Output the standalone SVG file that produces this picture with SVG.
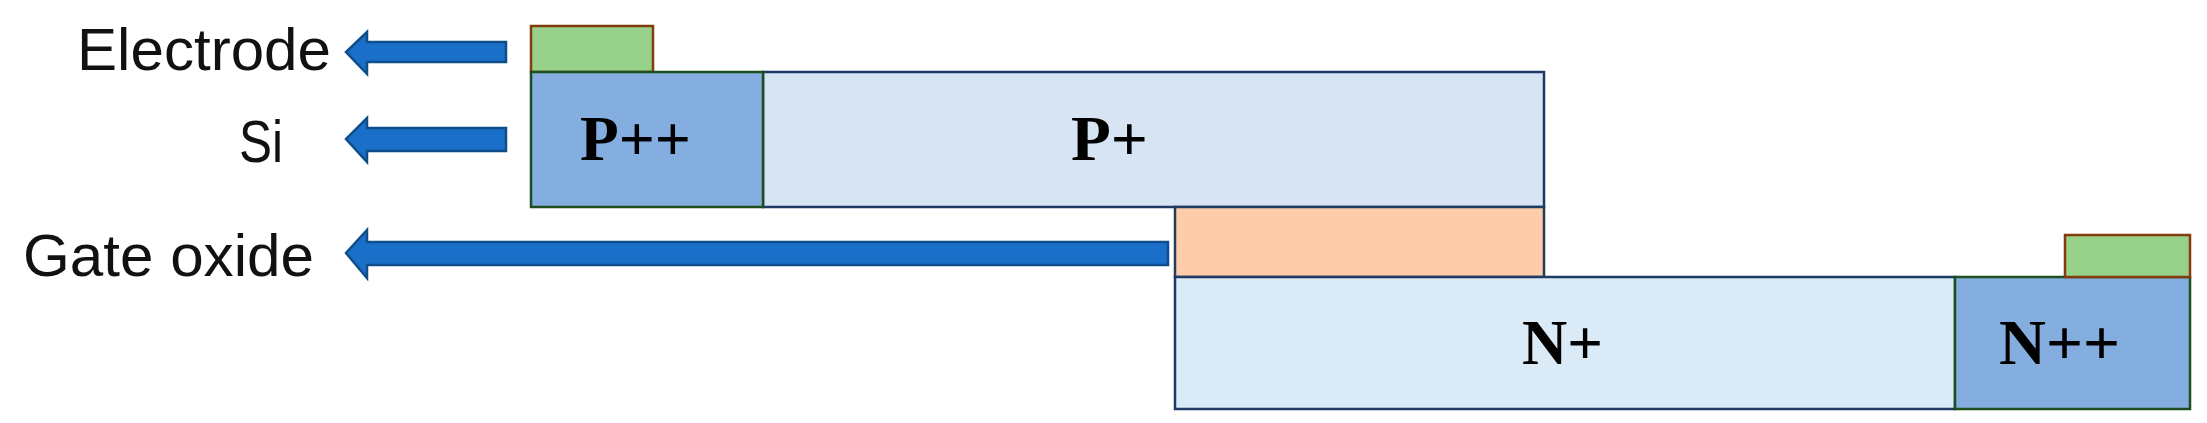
<svg xmlns="http://www.w3.org/2000/svg" width="2207" height="423" viewBox="0 0 2207 423">
<style>
.lbl{font-family:"Liberation Sans",Arial,sans-serif;font-size:59px;fill:#111}
.reg{font-family:"Liberation Serif","Times New Roman",serif;font-size:64px;font-weight:bold;fill:#000}
.arr{fill:#1A70C8;stroke:#0F4E8A;stroke-width:2.5}
.el{fill:#98D18A;stroke:#843C0C;stroke-width:2.5}
.hv{fill:#84AEDF;stroke:#1E4E1E;stroke-width:2.5}
</style>
<rect width="2207" height="423" fill="#fff"/>
<g id="connectors">
<path class="arr" d="M506,42 H367 V32 L346,52 L367,74 V62 H506 Z"/>
<path class="arr" d="M506,128 H367 V118 L346,139 L367,162 V151 H506 Z"/>
<path class="arr" d="M1168,242 H367 V230 L346,253 L367,278 V265 H1168 Z"/>
</g>
<g id="label-electrode"><text class="lbl" x="331" y="70" text-anchor="end" textLength="254" lengthAdjust="spacingAndGlyphs">Electrode</text></g>
<g id="label-si"><text class="lbl" x="283" y="162" text-anchor="end" textLength="44" lengthAdjust="spacingAndGlyphs">Si</text></g>
<g id="label-gate"><text class="lbl" x="314" y="276" text-anchor="end" textLength="291" lengthAdjust="spacingAndGlyphs">Gate oxide</text></g>
<g id="electrode1"><rect class="el" x="531" y="26" width="122" height="46"/></g>
<g id="pplus"><rect x="763" y="72" width="781" height="135" fill="#D7E4F3" stroke="#1F3864" stroke-width="2.5"/><text class="reg" x="1071" y="160" textLength="77" lengthAdjust="spacingAndGlyphs">P+</text></g>
<g id="pplusplus"><rect class="hv" x="531" y="72" width="232" height="135"/><text class="reg" x="580" y="160" textLength="111" lengthAdjust="spacingAndGlyphs">P++</text></g>
<g id="gateoxide"><rect x="1175" y="207" width="369" height="70" fill="#FFCCAA" stroke="#203E5A" stroke-width="2.5"/></g>
<g id="nplus"><rect x="1175" y="277" width="780" height="132" fill="#DAEBF7" stroke="#1F3864" stroke-width="2.5"/><text class="reg" x="1522" y="364" textLength="81" lengthAdjust="spacingAndGlyphs">N+</text></g>
<g id="nplusplus"><rect class="hv" x="1955" y="277" width="235" height="132"/><text class="reg" x="1999" y="364" textLength="121" lengthAdjust="spacingAndGlyphs">N++</text></g>
<g id="electrode2"><rect class="el" x="2065" y="235" width="125" height="42"/></g>
</svg>
